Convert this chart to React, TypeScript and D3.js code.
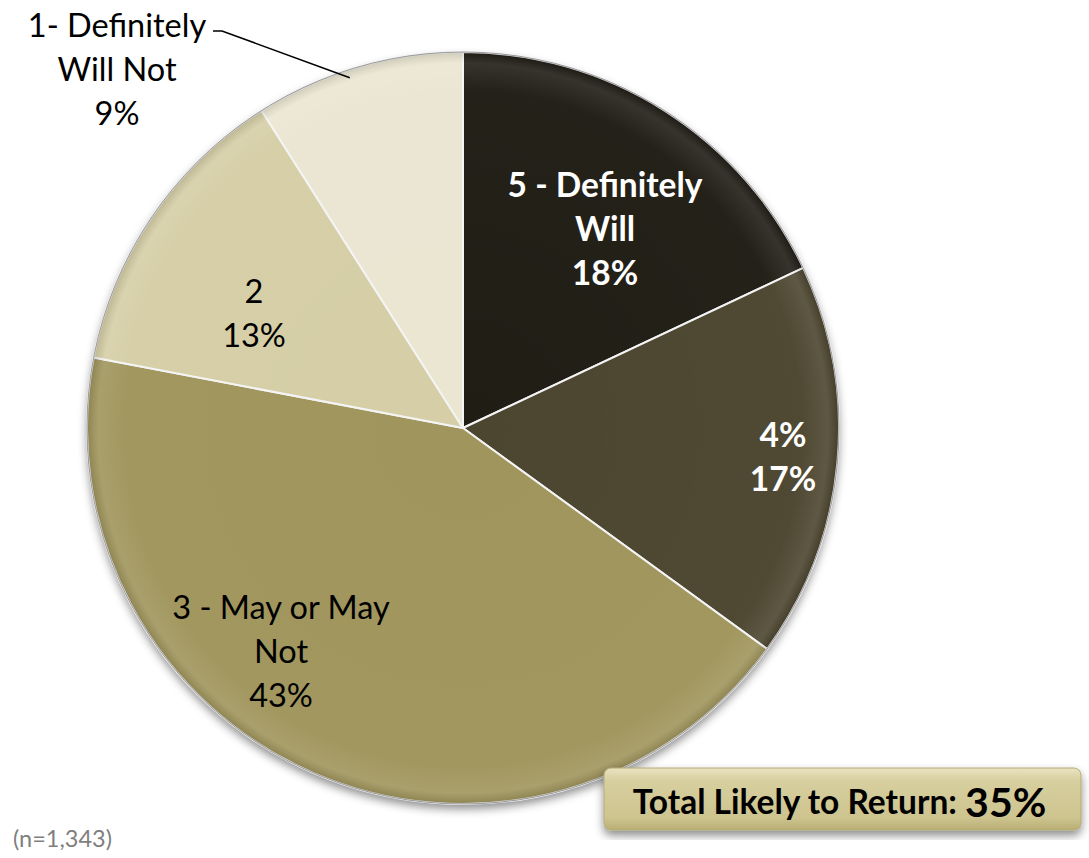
import React, { useEffect, useRef } from "react";
import * as d3 from "d3";

const labels = ["5 - Definitely Will", "4%", "3 - May or May Not", "2", "1- Definitely Will Not"];
const values = [18, 17, 43, 13, 9];
const colors = ["#201d15", "#4c452f", "#a0955c", "#d5cea6", "#ebe6d2"];
const textColors = ["#ffffff", "#ffffff", "#000000", "#000000", "#000000"];
const boldText = [true, true, false, false, false];
// label lines per slice, as drawn in the picture
const labelLines = [
  ["5 - Definitely", "Will", "18%"],
  ["4%", "17%"],
  ["3 - May or May", "Not", "43%"],
  ["2", "13%"],
  ["1- Definitely", "Will Not", "9%"],
];
const sampleNote = "(n=1,343)";
const totalLabel = "Total Likely to Return:";
const totalValue = "35%";

const App = () => {
  const svgRef = useRef<SVGSVGElement | null>(null);
  const w = 1089;
  const h = 858;
  const cx = 463;
  const cy = 428;
  const r = 376;

  useEffect(() => {
    const svg = d3.select(svgRef.current);
    svg.selectAll("*").remove();
    svg.attr("width", w).attr("height", h).attr("viewBox", `0 0 ${w} ${h}`);

    const defs = svg.append("defs");
    const shadow = defs.append("filter").attr("id", "shadow")
      .attr("x", "-10%").attr("y", "-10%").attr("width", "120%").attr("height", "125%");
    shadow.append("feDropShadow").attr("dx", 0).attr("dy", 5).attr("stdDeviation", 5)
      .attr("flood-color", "#000").attr("flood-opacity", 0.45);

    const shade = defs.append("radialGradient").attr("id", "shade")
      .attr("cx", "50%").attr("cy", "50%").attr("r", "50%");
    shade.append("stop").attr("offset", "0%").attr("stop-color", "#fff").attr("stop-opacity", 0);
    shade.append("stop").attr("offset", "90%").attr("stop-color", "#fff").attr("stop-opacity", 0.02);
    shade.append("stop").attr("offset", "97%").attr("stop-color", "#fff").attr("stop-opacity", 0.1);
    shade.append("stop").attr("offset", "100%").attr("stop-color", "#000").attr("stop-opacity", 0.12);

    const boxGrad = defs.append("linearGradient").attr("id", "boxGrad")
      .attr("x1", 0).attr("y1", 0).attr("x2", 0).attr("y2", 1);
    boxGrad.append("stop").attr("offset", "0%").attr("stop-color", "#e9e3c2");
    boxGrad.append("stop").attr("offset", "20%").attr("stop-color", "#d7cf9f");
    boxGrad.append("stop").attr("offset", "80%").attr("stop-color", "#cdc48f");
    boxGrad.append("stop").attr("offset", "100%").attr("stop-color", "#b9ae75");

    const pie = d3.pie<number>().sort(null).value((d) => d);
    const arcs = pie(values);
    const arc = d3.arc<d3.PieArcDatum<number>>().innerRadius(0).outerRadius(r);

    const g = svg.append("g").attr("transform", `translate(${cx},${cy})`);

    // outer disk with shadow
    g.append("circle").attr("r", r).attr("fill", "#bbb").attr("filter", "url(#shadow)");

    g.selectAll("path.slice")
      .data(arcs)
      .enter()
      .append("path")
      .attr("class", "slice")
      .attr("d", arc)
      .attr("fill", (d, i) => colors[i])
      .attr("stroke", "#f4f4f4")
      .attr("stroke-width", 2)
      .attr("stroke-linejoin", "round");

    g.append("circle").attr("r", r).attr("fill", "url(#shade)").attr("pointer-events", "none");
    g.append("circle").attr("r", r).attr("fill", "none").attr("stroke", "#9a9a9a").attr("stroke-width", 1);

    const font = "Lato, 'Open Sans', sans-serif";
    const lineH = 44;
    // label centres in px (relative to the chart)
    const labelPos: [number, number][] = [
      [605, 228],
      [783, 456],
      [281, 650],
      [254, 312],
      [117, 68],
    ];

    labelLines.forEach((lines, i) => {
      const [lx, ly] = labelPos[i];
      const t = svg.append("text")
        .attr("text-anchor", "middle")
        .attr("font-family", font)
        .attr("font-size", boldText[i] ? 33.5 : 32.5)
        .attr("font-weight", boldText[i] ? "bold" : "normal")
        .attr("fill", textColors[i]);
      lines.forEach((ln, j) => {
        t.append("tspan")
          .attr("x", lx)
          .attr("y", ly + (j - (lines.length - 1) / 2) * lineH)
          .attr("dominant-baseline", "central")
          .text(ln);
      });
    });

    // leader line for the outside label
    const a1 = arcs[4];
    const mid = (a1.startAngle + a1.endAngle) / 2;
    const px = cx + Math.sin(mid - 0.03) * (r - 8);
    const py = cy - Math.cos(mid - 0.03) * (r - 8);
    svg.append("path")
      .attr("d", `M${px},${py} L222,31 L213,31`)
      .attr("fill", "none")
      .attr("stroke", "#000")
      .attr("stroke-width", 1.6);

    svg.append("text")
      .attr("x", 13).attr("y", 838)
      .attr("font-family", font)
      .attr("font-size", 23.5)
      .attr("fill", "#7f7f7f")
      .attr("dominant-baseline", "central")
      .text(sampleNote);

    // total box
    const bx = 604, by = 768, bw = 477, bh = 62;
    svg.append("rect")
      .attr("x", bx).attr("y", by).attr("width", bw).attr("height", bh)
      .attr("rx", 7).attr("ry", 7)
      .attr("fill", "url(#boxGrad)")
      .attr("stroke", "#b3aa77")
      .attr("stroke-width", 1)
      .attr("filter", "url(#shadow)");
    const tt = svg.append("text")
      .attr("x", bx + bw / 2 - 3).attr("y", by + bh / 2 + 2)
      .attr("text-anchor", "middle")
      .attr("dominant-baseline", "central")
      .attr("font-family", font)
      .attr("font-weight", "bold")
      .attr("fill", "#000");
    tt.append("tspan").attr("font-size", 33.5).text(totalLabel + " ");
    tt.append("tspan").attr("font-size", 41).text(totalValue);
  }, []);

  return <svg ref={svgRef} style={{ position: "absolute", left: 0, top: 0 }}></svg>;
};

export default App;
